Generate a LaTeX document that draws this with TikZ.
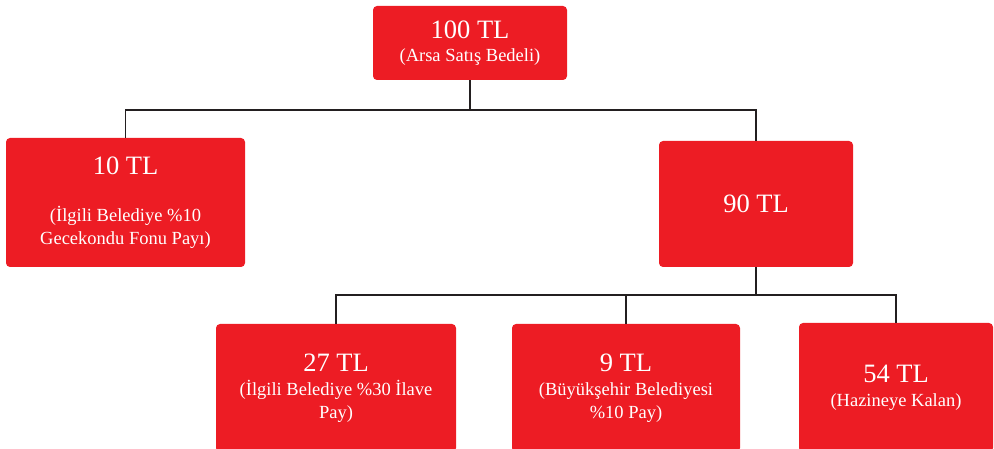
\documentclass[tikz,border=0pt]{standalone}
\usepackage{fontspec}
\setmainfont{Liberation Serif}
\definecolor{boxred}{HTML}{ED1C24}
\definecolor{linegray}{HTML}{231F20}
\newcommand{\bigsz}{\fontsize{26.5}{30}\selectfont}
\newcommand{\smallsz}{\fontsize{18.5}{23}\selectfont}
\begin{document}
\begin{tikzpicture}[x=1pt,y=-1pt,
  box/.style={rectangle, rounded corners=4pt, fill=boxred, text=white, align=center, inner sep=0pt, font=\smallsz},
  conn/.style={draw=linegray, line width=1.8pt}]
\useasboundingbox (0,0) rectangle (994,449);
% boxes
\node[box, minimum width=194pt, minimum height=74pt] (top) at (470,43)
  {{\bigsz 100 TL}\\[0pt](Arsa Satış Bedeli)};
\node[box, minimum width=239pt, minimum height=129pt] (left) at (125.5,202.5)
  {{\bigsz 10 TL}\\[24pt](İlgili Belediye \%10\\Gecekondu Fonu Payı)};
\node[box, minimum width=194pt, minimum height=126pt] (mid) at (756,204)
  {\bigsz 90 TL};
\node[box, minimum width=240pt, minimum height=128pt] (b1) at (336,388)
  {{\bigsz 27 TL}\\[1pt](İlgili Belediye \%30 İlave\\Pay)};
\node[box, minimum width=228pt, minimum height=128pt] (b2) at (626,388)
  {{\bigsz 9 TL}\\[1pt](Büyükşehir Belediyesi\\\%10 Pay)};
\node[box, minimum width=194pt, minimum height=129pt] (b3) at (896,387.5)
  {{\bigsz 54 TL}\\[1pt](Hazineye Kalan)};
% junction coordinates
\coordinate (j1) at (470,110);
\coordinate (j2) at (756,295);
% connectors
\draw[conn] (top.south) -- (j1);
\draw[conn] (left.north) |- (j1) -| (mid.north);
\draw[conn] (mid.south) -- (j2);
\draw[conn] (b1.north) |- (j2) -| (b3.north);
\draw[conn] (b2.north) -- (b2.north |- j2);
\end{tikzpicture}
\end{document}
